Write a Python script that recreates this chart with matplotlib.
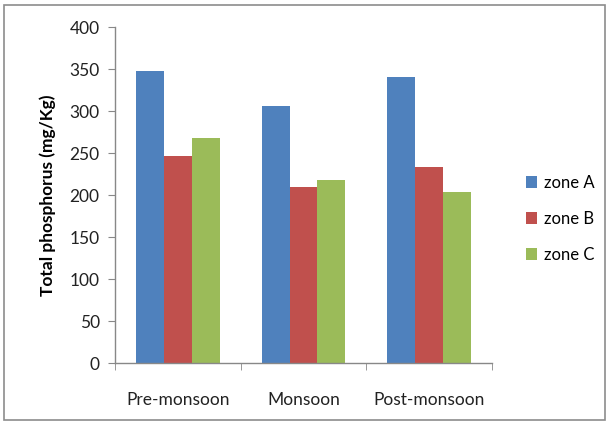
import matplotlib.pyplot as plt
import matplotlib.patches as mpatches
import numpy as np

# 各季节三个区域的总磷含量
seasons = ['Pre-monsoon', 'Monsoon', 'Post-monsoon']
zones = ['zone A', 'zone B', 'zone C']
zone_a = [348, 306, 340]
zone_b = [246, 210, 233]
zone_c = [268, 218, 204]
colors = ['#4F81BD', '#C0504D', '#9BBB59']

plt.rcParams['font.family'] = ['Lato', 'DejaVu Sans']

fig = plt.figure(figsize=(6.09, 4.23), dpi=100)
ax = fig.add_axes([0.1888, 0.1418, 0.619, 0.7943])

x = np.arange(len(seasons))
w = 0.222
for i, (vals, name) in enumerate(zip([zone_a, zone_b, zone_c], zones)):
    ax.bar(x + (i - 1) * w, vals, w, color=colors[i], label=name)

ax.set_xlim(-0.5, 2.5)
ax.set_ylim(0, 400)
ax.set_yticks(np.arange(0, 401, 50))
ax.set_xticks(x)
ax.set_xticklabels(seasons, fontsize=12.5, color='#222222')
ax.tick_params(axis='x', length=0, pad=21)
# 分类边界上的刻度线
ax.set_xticks([-0.5, 0.5, 1.5, 2.5], minor=True)
ax.tick_params(axis='x', which='minor', length=5, color='#888888', direction='out')
ax.tick_params(axis='y', length=5, color='#888888', labelsize=12.5, labelcolor='#222222', pad=6)

for s in ['top', 'right']:
    ax.spines[s].set_visible(False)
for s in ['left', 'bottom']:
    ax.spines[s].set_color('#888888')
    ax.spines[s].set_linewidth(1)

ax.set_ylabel('Total phosphorus (mg/Kg)', fontsize=12.5, fontweight='bold', labelpad=10)

ax.legend(loc='center left', bbox_to_anchor=(1.05, 0.43), frameon=False,
          fontsize=12, handlelength=0.7, handleheight=0.7, handletextpad=0.4,
          labelspacing=1.2)

# 图表外框
fig.patches.append(mpatches.Rectangle((4 / 609, 1 - 420 / 423), 601 / 609, 415 / 423,
                                      transform=fig.transFigure, fill=False,
                                      edgecolor='#8c8c8c', linewidth=1.2))

fig.savefig('out.png', dpi=100)
